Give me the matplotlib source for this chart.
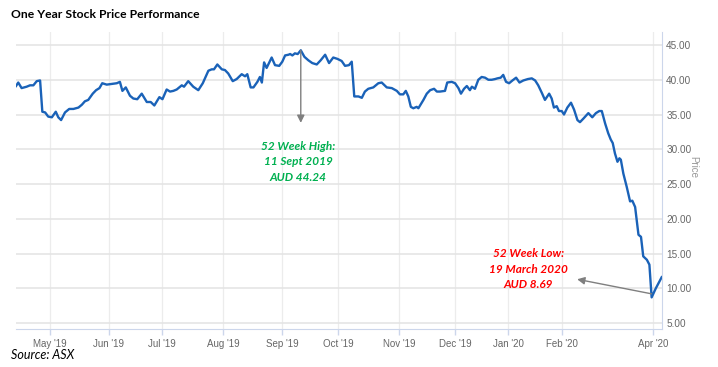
import matplotlib
matplotlib.use("Agg")
import matplotlib.pyplot as plt

# trading-session index (ordinal axis) and closing price
session = [0.0, 0.8, 2.0, 3.8, 5.0, 6.2, 7.4, 8.6, 9.4, 10.4, 11.5, 12.8, 14.2, 15.1, 16.1,
           17.5, 19.0, 20.5, 22.3, 23.5, 24.6, 25.8, 27.4, 28.6, 29.8, 30.8, 32.4, 34.2, 36.0,
           37.1, 38.0, 39.2, 40.7, 41.9, 43.3, 44.9, 46.7, 48.1, 49.4, 51.2, 52.3, 53.8, 55.0,
           56.2, 57.4, 59.2, 60.0, 61.5, 63.3, 65.1, 66.7, 68.7, 69.9, 70.7, 71.9, 73.5, 74.6,
           75.8, 77.4, 78.8, 80.6, 81.8, 82.6, 83.8, 84.8, 86.2, 87.1, 87.8, 88.6, 89.5, 91.3,
           92.5, 94.0, 95.1, 96.1, 97.3, 97.9, 98.7, 99.6, 100.6, 101.7, 103.0, 104.4, 105.8,
           107.4, 108.8, 110.4, 111.8, 113.3, 114.8, 116.3, 117.5, 118.9, 119.9, 120.8, 122.3,
           123.5, 124.6, 125.8, 127.6, 129.4, 130.6, 132.4, 134.2, 136.0, 137.1, 138.3, 139.2,
           140.1, 141.0, 141.9, 143.1, 143.7, 145.5, 146.7, 147.9, 149.3, 150.3, 151.4, 153.2,
           154.0, 155.6, 156.8, 158.0, 158.9, 160.0, 161.0, 162.1, 162.8, 163.9, 165.1, 166.3,
           167.5, 168.7, 169.9, 171.1, 171.9, 173.1, 174.0, 175.0, 176.1, 177.3, 178.6, 179.8,
           181.2, 182.8, 184.2, 185.4, 186.5, 187.8, 188.9, 190.4, 191.3, 192.1, 193.1, 193.9,
           194.9, 195.7, 196.9, 198.2, 199.3, 200.5, 201.4, 202.6, 204.4, 205.8, 207.1, 208.3,
           209.2, 210.4, 211.5, 212.4, 213.1, 213.9, 214.8, 215.5, 216.0, 216.9, 218.1, 219.3,
           220.1, 221.1, 222.3, 223.2, 224.0, 225.3, 226.2, 226.7, 227.0, 228.5, 229.4, 230.6]
price = [39.1, 39.6, 38.8, 39.0, 39.2, 39.2, 39.8, 39.9, 35.4, 35.3, 34.7, 34.6, 35.4, 34.6, 34.2,
         35.3, 35.8, 35.8, 36.0, 36.4, 36.9, 37.1, 38.0, 38.5, 38.8, 39.5, 39.3, 39.4, 39.5,
         39.7, 38.4, 38.9, 37.7, 37.3, 37.2, 38.0, 36.8, 36.8, 36.3, 37.5, 37.2, 38.6, 38.3,
         38.4, 38.6, 39.2, 39.0, 39.8, 39.0, 38.5, 39.5, 41.3, 41.5, 41.5, 42.2, 41.5, 41.4,
         40.9, 39.8, 40.1, 40.8, 40.5, 40.8, 38.9, 38.9, 39.7, 40.4, 39.6, 42.5, 41.7, 43.2,
         42.1, 42.0, 42.6, 43.5, 43.6, 43.7, 43.5, 43.8, 43.7, 44.24, 43.3, 42.8, 42.4,
         42.2, 42.8, 43.6, 42.4, 43.2, 43.0, 42.7, 42.0, 42.1, 42.6, 37.6, 37.6,
         37.4, 38.3, 38.7, 38.9, 39.5, 39.6, 38.9, 38.8, 38.4, 37.9, 37.9, 38.4,
         37.6, 36.1, 35.9, 36.1, 35.9, 37.1, 38.0, 38.5, 38.7, 38.3, 38.3, 38.4,
         39.6, 39.7, 39.5, 38.8, 38.0, 38.7, 39.1, 38.5, 39.0, 38.7, 40.0, 40.4,
         40.3, 40.0, 40.0, 40.1, 40.2, 40.3, 40.7, 39.7, 39.5, 39.9, 40.3, 39.6,
         39.9, 40.1, 40.2, 39.9, 39.2, 38.1, 37.1, 38.0, 37.3, 36.0, 36.2, 35.5,
         35.5, 35.0, 36.0, 36.7, 35.7, 34.2, 33.9, 34.4, 35.2, 34.6, 35.2, 35.5,
         35.5, 33.7, 32.3, 31.4, 30.9, 29.4, 28.2, 28.7, 28.5, 26.5, 24.6, 22.5,
         22.6, 21.7, 17.7, 17.4, 14.6, 14.1, 13.4, 10.5, 8.69, 10.0, 10.7, 11.6]

month_pos = [12.1, 33.2, 52.1, 73.9, 95.0, 115.0, 136.8, 156.8, 175.7, 195.0, 227.5]
month_labels = ["May '19", "Jun '19", "Jul '19", "Aug '19", "Sep '19", "Oct '19",
                "Nov '19", "Dec '19", "Jan '20", "Feb '20", "Apr '20"]
price_ticks = [5, 10, 15, 20, 25, 30, 35, 40, 45]

high_at, high_val = 101.7, 44.24
low_at, low_val = 227.0, 9.2

fig = plt.figure(figsize=(7.18, 3.67), dpi=100)
ax = fig.add_axes([0.0223, 0.1035, 0.8997, 0.8093])

ax.plot(session, price, color="#1a62b8", lw=1.7, solid_joinstyle="round")

ax.set_xlim(0, 230.7)
ax.set_ylim(4.14, 46.87)
ax.set_xticks(month_pos)
ax.set_xticklabels(month_labels, fontsize=7, color="#666666", family="Liberation Sans")
ax.yaxis.tick_right()
ax.set_yticks(price_ticks)
ax.set_yticklabels([f"{v:.2f}" for v in price_ticks], fontsize=7.2, color="#666666",
                   family="Liberation Sans")
ax.tick_params(axis="x", length=4, width=1, color="#ccd6eb", pad=3)
ax.tick_params(axis="y", length=0, pad=3)
ax.grid(True, axis="y", color="#e3e3e3", lw=1.1)
ax.grid(True, axis="x", color="#ececec", lw=0.9)
ax.set_axisbelow(True)

for s in ["top", "left"]:
    ax.spines[s].set_visible(False)
ax.spines["bottom"].set_color("#ccd6eb")
ax.spines["right"].set_color("#ccd6eb")

ax.set_ylabel("Price", rotation=270, color="#999999", fontsize=7, family="Liberation Sans")
ax.yaxis.set_label_position("right")
ax.yaxis.set_label_coords(1.056, 0.545)

# annotations
ax.annotate("", xy=(high_at, 33.8), xytext=(high_at, high_val),
            arrowprops=dict(arrowstyle="-|>", color="#7f7f7f", lw=1, mutation_scale=11,
                            shrinkA=0, shrinkB=0))
ax.annotate("", xy=(200.4, 11.3), xytext=(low_at, low_val),
            arrowprops=dict(arrowstyle="-|>", color="#7f7f7f", lw=1, mutation_scale=11,
                            shrinkA=0, shrinkB=0))
ax.text(100.7, 28.17, "52 Week High:\n11 Sept 2019\nAUD 44.24", color="#00b050",
        fontsize=8.5, fontweight="bold", fontstyle="italic", family="Lato",
        ha="center", va="center", linespacing=1.45)
ax.text(182.9, 12.77, "52 Week Low:\n19 March 2020\nAUD 8.69", color="#ff0000",
        fontsize=8.5, fontweight="bold", fontstyle="italic", family="Lato",
        ha="center", va="center", linespacing=1.45)

fig.text(11 / 718, 1 - 14 / 367, "One Year Stock Price Performance", fontsize=8.7,
         fontweight="bold", family="Lato", va="center", ha="left")
fig.text(11 / 718, 1 - 355 / 367, "Source: ASX", fontsize=9, fontstyle="italic",
         family="Lato", va="center", ha="left")

fig.savefig("out.png", dpi=100)
